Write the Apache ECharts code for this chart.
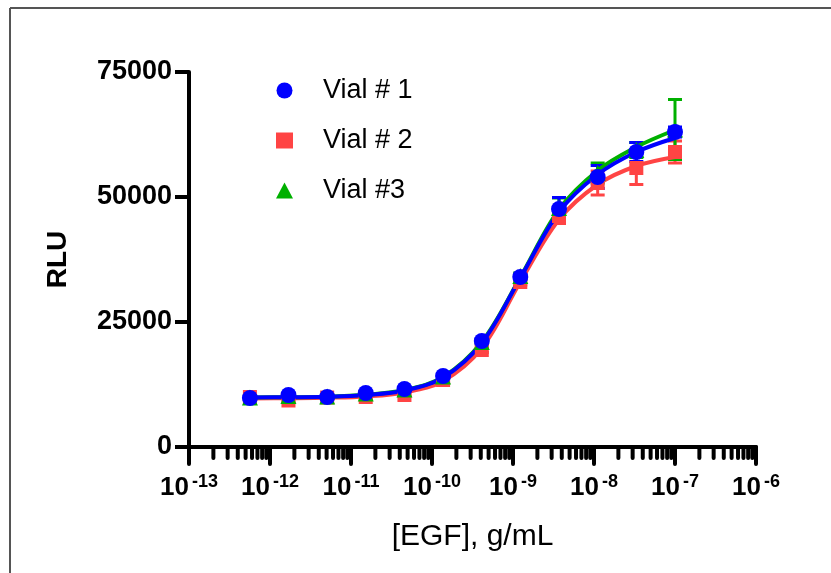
<!DOCTYPE html>
<html>
<head>
<meta charset="utf-8">
<script src="https://cdn.jsdelivr.net/npm/echarts@6/dist/echarts.min.js"></script>
<style>
html, body { margin: 0; padding: 0; background: #fff; }
#main { width: 831px; height: 573px; }
</style>
</head>
<body>
<div id="main"></div>
<script>
// 3-fold dilution series, g/mL
var doses = [5.65e-13, 1.69e-12, 5.08e-12, 1.52e-11, 4.57e-11, 1.37e-10,
             4.12e-10, 1.23e-9, 3.70e-9, 1.11e-8, 3.33e-8, 1e-7];

var vial1 = [9800, 10400, 10000, 10800, 11600, 14200, 21200, 34000, 47600, 54000, 59000, 63000];
var vial2 = [10000, 9300, 9900, 10000, 10400, 13400, 19400, 33000, 46200, 52800, 55800, 59000];
var vial3 = [9900, 10200, 10100, 10700, 11500, 14100, 21000, 34200, 47800, 54800, 59400, 63500];

var err1 = [300, 300, 300, 300, 300, 400, 500, 600, 2300, 2300, 1900, 1000];
var err2 = [300, 300, 300, 300, 300, 400, 500, 600, 1500, 2400, 3300, 2200];
var err3 = [300, 300, 300, 300, 300, 400, 500, 600, 2000, 2000, 1500, 6000];

// fitted curves, read at each dose
var fit1 = [9900, 9950, 10050, 10400, 11300, 13900, 20800, 33800, 47000, 54500, 59000, 61800];
var fit2 = [9700, 9750, 9850, 10100, 10900, 13200, 19800, 33000, 45500, 52500, 56200, 58000];
var fit3 = [9900, 9950, 10050, 10450, 11400, 14000, 21000, 33900, 47500, 55300, 60000, 63400];

var names = ['Vial # 1', 'Vial # 2', 'Vial #3'];
var colors = ['#0000ff', '#ff4444', '#00b000'];

var minorTicks = [];
for (var e = -13; e < -6; e++) {
  for (var m = 2; m <= 9; m++) minorTicks.push([m * Math.pow(10, e), 0]);
}

function pts(vals) {
  return doses.map(function (d, i) { return [d, vals[i]]; });
}
function bars(vals, errs) {
  return doses.map(function (d, i) { return [d, vals[i] - errs[i], vals[i] + errs[i]]; });
}

function errorItem(color) {
  return function (params, api) {
    var lo = api.coord([api.value(0), api.value(1)]);
    var hi = api.coord([api.value(0), api.value(2)]);
    var w = 7;
    var st = { stroke: color, lineWidth: 3 };
    return {
      type: 'group',
      children: [
        { type: 'line', shape: { x1: lo[0], y1: lo[1], x2: hi[0], y2: hi[1] }, style: st },
        { type: 'line', shape: { x1: lo[0] - w, y1: lo[1], x2: lo[0] + w, y2: lo[1] }, style: st },
        { type: 'line', shape: { x1: hi[0] - w, y1: hi[1], x2: hi[0] + w, y2: hi[1] }, style: st }
      ]
    };
  };
}

var font = 'Arial, "Liberation Sans", sans-serif';
var myChart = echarts.init(document.getElementById('main'));

var series = [];
var order = [1, 2, 0];
var fits = [fit1, fit2, fit3];
var vals = [vial1, vial2, vial3];
var errs = [err1, err2, err3];
var symbols = ['circle', 'rect', 'triangle'];
var sizes = [16, 14, 16];
order.forEach(function (k) {
  series.push({
    name: 'err' + k, type: 'custom', renderItem: errorItem(colors[k]),
    data: bars(vals[k], errs[k]), silent: true, z: 2
  });
  series.push({
    name: 'fit' + k, type: 'line', data: pts(fits[k]), smooth: 0.35,
    showSymbol: false, lineStyle: { color: colors[k], width: 4 }, silent: true, z: 3
  });
  series.push({
    name: names[k], type: 'scatter', data: pts(vals[k]), symbol: symbols[k],
    symbolSize: sizes[k], itemStyle: { color: colors[k], opacity: 1 }, z: 4
  });
});
series.push({
  name: 'minor', type: 'custom', data: minorTicks, silent: true, clip: false, z: 5,
  renderItem: function (params, api) {
    var p = api.coord([api.value(0), 0]);
    return {
      type: 'line', shape: { x1: p[0], y1: p[1], x2: p[0], y2: p[1] + 11 },
      style: { stroke: '#000', lineWidth: 4, lineCap: 'round' }
    };
  }
});

var option = {
  animation: false,
  backgroundColor: '#fff',
  graphic: [
    { type: 'line', shape: { x1: 10, y1: 8, x2: 831, y2: 8 }, style: { stroke: '#555', lineWidth: 2 } },
    { type: 'line', shape: { x1: 10, y1: 8, x2: 10, y2: 573 }, style: { stroke: '#555', lineWidth: 2 } }
  ],
  grid: { left: 189, right: 75, top: 72, bottom: 126 },
  legend: {
    orient: 'vertical', left: 271, top: 72, itemGap: 23,
    itemWidth: 17, itemHeight: 16,
    textStyle: { fontFamily: font, fontSize: 27, color: '#000', padding: [0, 0, 0, 25] },
    data: [
      { name: names[0], icon: 'circle' },
      { name: names[1], icon: 'rect' },
      { name: names[2], icon: 'triangle' }
    ]
  },
  xAxis: {
    type: 'log', logBase: 10, min: 1e-13, max: 1e-6,
    name: '[EGF], g/mL', nameLocation: 'middle', nameGap: 75,
    nameTextStyle: { fontFamily: font, fontSize: 30, color: '#000' },
    axisLine: { lineStyle: { color: '#000', width: 4 } },
    axisTick: { length: 17, lineStyle: { color: '#000', width: 4, cap: 'round' } },
    splitLine: { show: false },
    axisLabel: {
      margin: 26,
      formatter: function (v) {
        var ex = Math.round(Math.log(v) / Math.LN10);
        return '{b|10}{s|' + ex + '}';
      },
      rich: {
        b: { fontFamily: font, fontSize: 26, fontWeight: 'bold', color: '#000' },
        s: { fontFamily: font, fontSize: 18, fontWeight: 'bold', color: '#000', padding: [0, 0, 12, 3] }
      }
    }
  },
  yAxis: {
    type: 'value', min: 0, max: 75000, interval: 25000,
    name: 'RLU', nameLocation: 'middle', nameGap: 117,
    nameTextStyle: { fontFamily: font, fontSize: 28, fontWeight: 'bold', color: '#000' },
    axisLine: { show: true, lineStyle: { color: '#000', width: 4 } },
    axisTick: { show: true, length: 14, lineStyle: { color: '#000', width: 4 } },
    splitLine: { show: false },
    axisLabel: {
      margin: 17, fontFamily: font, fontSize: 27, fontWeight: 'bold', color: '#000',
      formatter: function (v) { return String(v); }
    }
  },
  series: series
};

myChart.setOption(option);
</script>
</body>
</html>
